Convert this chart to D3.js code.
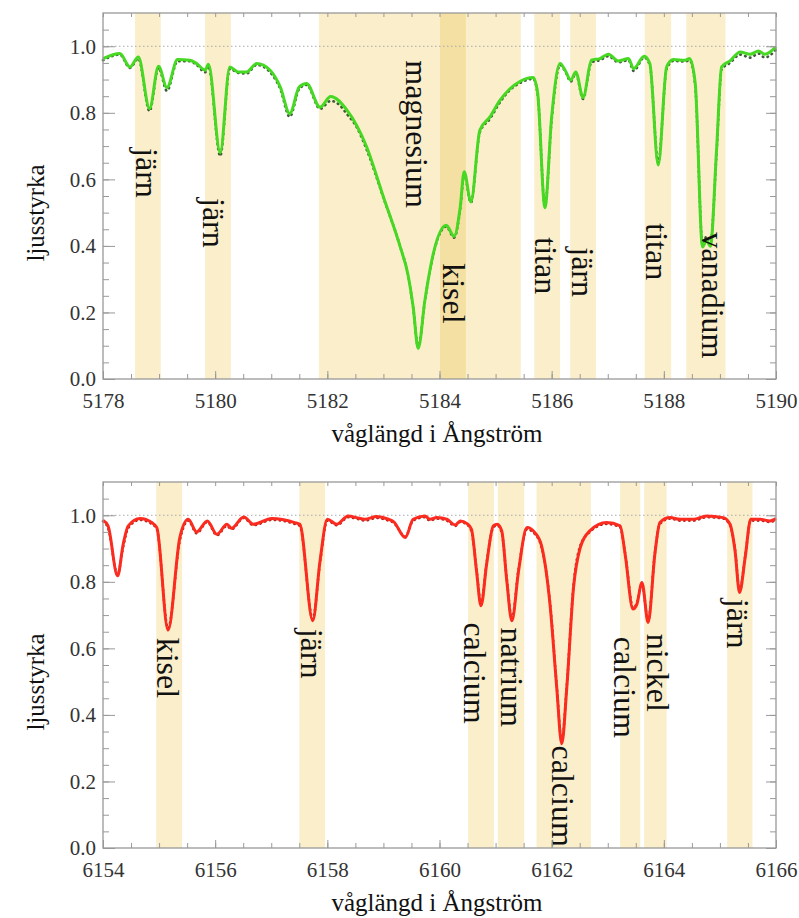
<!DOCTYPE html>
<html>
<head>
<meta charset="utf-8">
<script src="https://cdn.jsdelivr.net/npm/d3@7"></script>
<style>
  html, body { margin: 0; padding: 0; background: #fff; }
  svg { display: block; }
</style>
</head>
<body>
<div id="chart"></div>
<script>
'use strict';

// övre panelen: 5178-5190 Å
var topDomain = [5178, 5190];
var topModel = [
  [5178.00, 0.963], [5178.30, 0.978], [5178.48, 0.938], [5178.63, 0.968], [5178.83, 0.813],
  [5178.99, 0.940], [5179.14, 0.876], [5179.33, 0.960], [5179.55, 0.958], [5179.67, 0.948],
  [5179.82, 0.928], [5179.88, 0.946], [5180.09, 0.680], [5180.26, 0.938], [5180.41, 0.923],
  [5180.56, 0.923], [5180.74, 0.948], [5180.98, 0.928], [5181.16, 0.878], [5181.33, 0.798],
  [5181.50, 0.878], [5181.63, 0.888], [5181.87, 0.817], [5182.06, 0.849], [5182.35, 0.808],
  [5182.70, 0.698], [5183.00, 0.547], [5183.30, 0.397], [5183.44, 0.312], [5183.53, 0.217],
  [5183.62, 0.092], [5183.74, 0.237], [5183.89, 0.377], [5184.12, 0.462], [5184.26, 0.429],
  [5184.37, 0.517], [5184.44, 0.623], [5184.56, 0.532], [5184.72, 0.748], [5184.90, 0.788],
  [5185.08, 0.838], [5185.23, 0.868], [5185.44, 0.895], [5185.67, 0.906], [5185.75, 0.860],
  [5185.88, 0.515], [5186.00, 0.788], [5186.15, 0.948], [5186.24, 0.928], [5186.34, 0.898],
  [5186.43, 0.923], [5186.56, 0.846], [5186.71, 0.958], [5186.86, 0.963], [5187.01, 0.976],
  [5187.19, 0.956], [5187.37, 0.963], [5187.46, 0.933], [5187.65, 0.970], [5187.75, 0.948],
  [5187.90, 0.643], [5188.05, 0.938], [5188.17, 0.960], [5188.38, 0.958], [5188.46, 0.963],
  [5188.56, 0.888], [5188.69, 0.397], [5188.76, 0.417], [5188.83, 0.399], [5188.94, 0.688],
  [5189.03, 0.938], [5189.18, 0.956], [5189.36, 0.983], [5189.54, 0.976], [5189.69, 0.986],
  [5189.80, 0.976], [5190.00, 0.998]
];
var topObserved = [
  [5178.00, 0.958], [5178.30, 0.975], [5178.48, 0.935], [5178.63, 0.963], [5178.83, 0.805],
  [5178.99, 0.935], [5179.14, 0.866], [5179.33, 0.955], [5179.55, 0.955], [5179.67, 0.944],
  [5179.82, 0.922], [5179.88, 0.940], [5180.09, 0.670], [5180.26, 0.932], [5180.41, 0.920],
  [5180.56, 0.918], [5180.74, 0.944], [5180.98, 0.922], [5181.16, 0.872], [5181.33, 0.788],
  [5181.50, 0.872], [5181.63, 0.884], [5181.87, 0.812], [5182.06, 0.836], [5182.20, 0.826],
  [5182.35, 0.796], [5182.52, 0.758], [5182.70, 0.690], [5183.00, 0.545], [5183.30, 0.397],
  [5183.44, 0.312], [5183.53, 0.215], [5183.62, 0.095], [5183.74, 0.235], [5183.89, 0.375],
  [5184.12, 0.458], [5184.26, 0.425], [5184.37, 0.512], [5184.44, 0.615], [5184.56, 0.530],
  [5184.72, 0.742], [5184.90, 0.782], [5185.08, 0.832], [5185.23, 0.864], [5185.44, 0.890],
  [5185.67, 0.902], [5185.75, 0.855], [5185.88, 0.520], [5186.00, 0.780], [5186.15, 0.944],
  [5186.24, 0.925], [5186.34, 0.894], [5186.43, 0.918], [5186.56, 0.842], [5186.71, 0.952],
  [5186.86, 0.958], [5187.01, 0.970], [5187.19, 0.952], [5187.37, 0.958], [5187.46, 0.926],
  [5187.65, 0.966], [5187.75, 0.944], [5187.90, 0.650], [5188.05, 0.932], [5188.17, 0.956],
  [5188.38, 0.954], [5188.46, 0.958], [5188.56, 0.880], [5188.69, 0.405], [5188.76, 0.428],
  [5188.83, 0.405], [5188.94, 0.680], [5189.03, 0.930], [5189.18, 0.950], [5189.36, 0.975],
  [5189.54, 0.966], [5189.69, 0.978], [5189.80, 0.966], [5190.00, 0.990]
];
// [från, till, mörk]
var topBands = [
  [5178.57, 5179.03, false], [5179.82, 5180.28, false], [5181.85, 5185.45, false],
  [5184.01, 5184.47, true], [5185.69, 5186.15, false], [5186.33, 5186.79, false],
  [5187.66, 5188.13, false], [5188.40, 5189.10, false]
];
// [text, våglängd, ljusstyrka där texten börjar]
var topLabels = [
  ['järn', 5178.78, 0.694], ['järn', 5179.98, 0.544], ['magnesium', 5183.59, 0.958],
  ['kisel', 5184.26, 0.348], ['titan', 5185.90, 0.426], ['järn', 5186.56, 0.396],
  ['titan', 5187.87, 0.468], ['vanadium', 5188.88, 0.441]
];

// undre panelen: 6154-6166 Å
var bottomDomain = [6154, 6166];
var bottomModel = [
  [6154.00, 0.985], [6154.09, 0.968], [6154.26, 0.818], [6154.36, 0.913], [6154.45, 0.968],
  [6154.66, 0.990], [6154.87, 0.978], [6154.96, 0.963], [6155.16, 0.655], [6155.37, 0.933],
  [6155.52, 0.988], [6155.67, 0.950], [6155.86, 0.983], [6156.03, 0.943], [6156.21, 0.973],
  [6156.29, 0.961], [6156.51, 0.995], [6156.68, 0.973], [6157.01, 0.990], [6157.42, 0.978],
  [6157.51, 0.973], [6157.74, 0.683], [6157.87, 0.863], [6158.00, 0.988], [6158.17, 0.973],
  [6158.37, 0.998], [6158.52, 0.993], [6158.67, 0.988], [6158.88, 0.996], [6159.09, 0.988],
  [6159.18, 0.981], [6159.39, 0.933], [6159.53, 0.988], [6159.74, 0.998], [6159.83, 0.988],
  [6159.95, 0.993], [6160.13, 0.988], [6160.28, 0.971], [6160.37, 0.983], [6160.49, 0.975],
  [6160.57, 0.958], [6160.66, 0.833], [6160.74, 0.728], [6160.84, 0.853], [6160.96, 0.968],
  [6161.03, 0.973], [6161.11, 0.953], [6161.20, 0.803], [6161.29, 0.683], [6161.41, 0.833],
  [6161.56, 0.963], [6161.70, 0.948], [6161.82, 0.908], [6161.97, 0.733], [6162.09, 0.483],
  [6162.18, 0.313], [6162.27, 0.483], [6162.39, 0.783], [6162.51, 0.903], [6162.68, 0.953],
  [6162.98, 0.978], [6163.22, 0.968], [6163.31, 0.883], [6163.45, 0.718], [6163.52, 0.733],
  [6163.61, 0.798], [6163.72, 0.678], [6163.84, 0.883], [6163.93, 0.978], [6164.11, 0.993],
  [6164.29, 0.988], [6164.53, 0.988], [6164.76, 0.998], [6165.06, 0.993], [6165.18, 0.973],
  [6165.27, 0.893], [6165.35, 0.768], [6165.45, 0.873], [6165.55, 0.988], [6165.72, 0.988],
  [6165.89, 0.983], [6166.00, 0.990]
];
var bottomObserved = [
  [6154.00, 0.982], [6154.09, 0.962], [6154.26, 0.822], [6154.36, 0.905], [6154.45, 0.962],
  [6154.66, 0.986], [6154.87, 0.974], [6154.96, 0.958], [6155.16, 0.660], [6155.37, 0.925],
  [6155.52, 0.984], [6155.67, 0.946], [6155.86, 0.980], [6156.03, 0.940], [6156.21, 0.968],
  [6156.29, 0.958], [6156.51, 0.992], [6156.68, 0.970], [6157.01, 0.986], [6157.42, 0.974],
  [6157.51, 0.968], [6157.74, 0.688], [6157.87, 0.858], [6158.00, 0.984], [6158.17, 0.970],
  [6158.37, 0.994], [6158.52, 0.990], [6158.67, 0.984], [6158.88, 0.992], [6159.09, 0.984],
  [6159.18, 0.978], [6159.39, 0.936], [6159.53, 0.984], [6159.74, 0.994], [6159.83, 0.984],
  [6159.95, 0.990], [6160.13, 0.984], [6160.28, 0.968], [6160.37, 0.980], [6160.49, 0.972],
  [6160.57, 0.952], [6160.66, 0.838], [6160.74, 0.732], [6160.84, 0.858], [6160.96, 0.964],
  [6161.03, 0.970], [6161.11, 0.948], [6161.20, 0.808], [6161.29, 0.688], [6161.41, 0.838],
  [6161.56, 0.958], [6161.70, 0.944], [6161.82, 0.904], [6161.97, 0.738], [6162.09, 0.488],
  [6162.18, 0.318], [6162.27, 0.488], [6162.39, 0.790], [6162.51, 0.908], [6162.68, 0.950],
  [6162.98, 0.974], [6163.22, 0.964], [6163.31, 0.886], [6163.45, 0.722], [6163.52, 0.736],
  [6163.61, 0.794], [6163.72, 0.682], [6163.84, 0.886], [6163.93, 0.974], [6164.11, 0.990],
  [6164.29, 0.984], [6164.53, 0.984], [6164.76, 0.994], [6165.06, 0.990], [6165.18, 0.970],
  [6165.27, 0.896], [6165.35, 0.772], [6165.45, 0.876], [6165.55, 0.984], [6165.72, 0.984],
  [6165.89, 0.980], [6166.00, 0.986]
];
var bottomBands = [
  [6154.95, 6155.41, false], [6157.50, 6157.96, false], [6160.51, 6160.97, false],
  [6161.04, 6161.51, false], [6161.73, 6162.70, false], [6163.22, 6163.58, false],
  [6163.65, 6164.05, false], [6165.13, 6165.58, false]
];
var bottomLabels = [
  ['kisel', 6155.16, 0.632], ['järn', 6157.73, 0.659], ['calcium', 6160.63, 0.678],
  ['natrium', 6161.29, 0.663], ['calcium', 6162.20, 0.308], ['calcium', 6163.31, 0.635],
  ['nickel', 6163.90, 0.644], ['järn', 6165.33, 0.749]
];

var yDomain = [0, 1.1];
var yMajor = [0, 0.2, 0.4, 0.6, 0.8, 1.0];
var yMinor = d3.range(0, 1.1, 0.05);

var FONT = "'Liberation Serif', 'Times New Roman', serif";
var W = 799, H = 918;
var svg = d3.select('#chart').append('svg').attr('width', W).attr('height', H);

function drawPanel(top, cfg) {
  var left = 103, right = 776, height = 366;
  var x = d3.scaleLinear().domain(cfg.domain).range([left, right]);
  var y = d3.scaleLinear().domain(yDomain).range([top + height, top]);
  var g = svg.append('g');

  // markerade linjer
  g.selectAll('rect.band')
    .data(cfg.bands)
    .enter().append('rect')
    .attr('class', 'band')
    .attr('x', function (d) { return x(d[0]); })
    .attr('y', top)
    .attr('width', function (d) { return x(d[1]) - x(d[0]); })
    .attr('height', height)
    .attr('fill', function (d) { return d[2] ? '#f3e0a2' : '#faeecb'; });

  // kontinuum
  g.append('line')
    .attr('x1', left).attr('x2', right)
    .attr('y1', y(1)).attr('y2', y(1))
    .attr('stroke', '#aaa')
    .attr('stroke-width', 1)
    .attr('stroke-dasharray', '1.5,2.5');

  var line = d3.line()
    .x(function (d) { return x(d[0]); })
    .y(function (d) { return y(d[1]); })
    .curve(d3.curveMonotoneX);

  g.append('path')
    .datum(cfg.observed)
    .attr('d', line)
    .attr('fill', 'none')
    .attr('stroke', cfg.dotColor)
    .attr('stroke-width', 2.6)
    .attr('stroke-linecap', 'round')
    .attr('stroke-dasharray', '0.5,4.5');

  g.append('path')
    .datum(cfg.model)
    .attr('d', line)
    .attr('fill', 'none')
    .attr('stroke', cfg.color)
    .attr('stroke-width', 3)
    .attr('stroke-linejoin', 'round');

  // grundämnen
  g.selectAll('text.elem')
    .data(cfg.labels)
    .enter().append('text')
    .attr('class', 'elem')
    .attr('transform', function (d) {
      return 'translate(' + x(d[1]) + ',' + y(d[2]) + ') rotate(90)';
    })
    .attr('dominant-baseline', 'central')
    .style('font-family', FONT)
    .style('font-size', '32px')
    .style('fill', '#111')
    .text(function (d) { return d[0]; });

  // axlar, tickar inåt
  var xMajor = d3.range(cfg.domain[0], cfg.domain[1] + 0.01, 2);
  var xMinor = d3.range(cfg.domain[0], cfg.domain[1] + 0.01, 0.5);

  function axis(gen, tr, vals, size, labels) {
    var a = g.append('g')
      .attr('transform', tr)
      .call(gen.tickValues(vals).tickSize(-size).tickPadding(labels ? 7 : 0)
        .tickFormat(labels ? labels : function () { return ''; }));
    a.select('.domain').remove();
    a.selectAll('line').attr('stroke', '#999').attr('stroke-width', 1);
    a.selectAll('text')
      .style('font-family', FONT)
      .style('font-size', '21px')
      .style('fill', '#333');
    return a;
  }

  axis(d3.axisLeft(y), 'translate(' + left + ',0)', yMinor, 6);
  axis(d3.axisLeft(y), 'translate(' + left + ',0)', yMajor, 12, d3.format('.1f'));
  axis(d3.axisRight(y), 'translate(' + right + ',0)', yMinor, 6);
  axis(d3.axisRight(y), 'translate(' + right + ',0)', yMajor, 10);

  axis(d3.axisTop(x), 'translate(0,' + top + ')', xMinor, 4);
  axis(d3.axisBottom(x), 'translate(0,' + (top + height) + ')', xMinor, 5);
  var xb = axis(d3.axisBottom(x), 'translate(0,' + (top + height) + ')', xMajor, 8, d3.format('d'));
  xb.selectAll('text').attr('dy', null).attr('y', 29);

  g.append('rect')
    .attr('x', left).attr('y', top)
    .attr('width', right - left).attr('height', height)
    .attr('fill', 'none')
    .attr('stroke', '#999')
    .attr('stroke-width', 1.3);

  g.append('text')
    .attr('x', 437)
    .attr('y', top + height + 63)
    .attr('text-anchor', 'middle')
    .style('font-family', FONT)
    .style('font-size', '25px')
    .style('fill', '#111')
    .text('våglängd i Ångström');

  g.append('text')
    .attr('transform', 'translate(35,' + (top + 200) + ') rotate(-90)')
    .attr('text-anchor', 'middle')
    .attr('dominant-baseline', 'central')
    .style('font-family', FONT)
    .style('font-size', '25px')
    .style('fill', '#111')
    .text('ljusstyrka');
}

drawPanel(13, {
  domain: topDomain, model: topModel, observed: topObserved,
  bands: topBands, labels: topLabels, color: '#47d824', dotColor: '#3b5e34'
});
drawPanel(482, {
  domain: bottomDomain, model: bottomModel, observed: bottomObserved,
  bands: bottomBands, labels: bottomLabels, color: '#fb2b1f', dotColor: '#b3241c'
});
</script>
</body>
</html>
